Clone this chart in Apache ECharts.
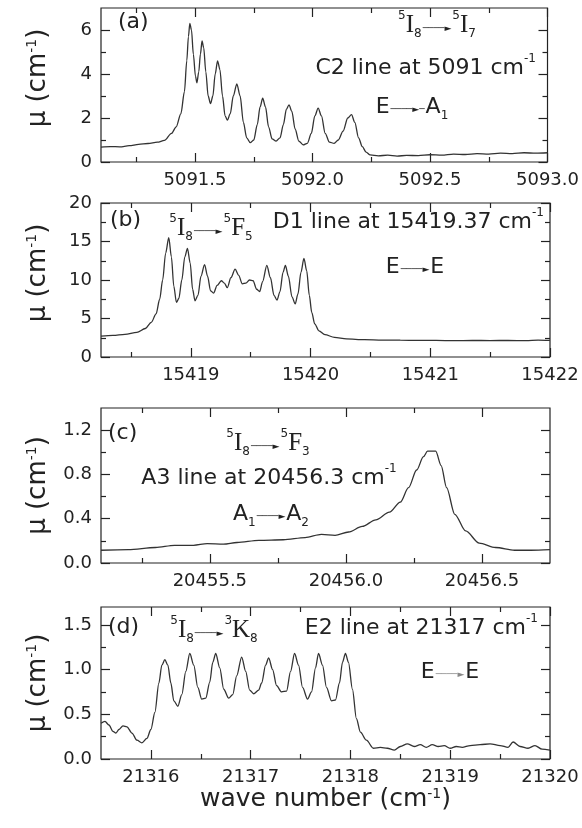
<!DOCTYPE html>
<html><head><meta charset="utf-8">
<script src="https://cdn.jsdelivr.net/npm/echarts@6/dist/echarts.min.js"></script>
<style>html,body{margin:0;padding:0;background:#fff}#c{width:582px;height:828px}</style>
</head><body><div id="c"></div>
<script>
// ---------- data ----------
const aXRange = [5091.1, 5093.0], aYRange = [0, 7];
const aXMajor = [5091.5, 5092.0, 5092.5, 5093.0], aXMinor = [5091.25, 5091.75, 5092.25, 5092.75];
const aYMajor = [0, 2, 4, 6], aYMinor = [1, 3, 5];
const aX = [5091.10,5091.14,5091.18,5091.22,5091.26,5091.30,5091.34,5091.37,5091.40,5091.42,5091.44,5091.455,5091.465,5091.472,5091.478,5091.485,5091.493,5091.502,5091.508,5091.516,5091.523,5091.530,5091.537,5091.546,5091.556,5091.566,5091.576,5091.586,5091.596,5091.606,5091.617,5091.628,5091.638,5091.650,5091.663,5091.678,5091.692,5091.706,5091.720,5091.735,5091.750,5091.765,5091.777,5091.788,5091.800,5091.813,5091.828,5091.845,5091.862,5091.876,5091.889,5091.900,5091.912,5091.926,5091.942,5091.960,5091.978,5091.995,5092.010,5092.024,5092.038,5092.054,5092.072,5092.092,5092.110,5092.130,5092.150,5092.166,5092.180,5092.196,5092.212,5092.228,5092.245,5092.28,5092.32,5092.36,5092.40,5092.45,5092.50,5092.55,5092.60,5092.65,5092.70,5092.75,5092.80,5092.85,5092.90,5092.95,5093.00];
const aY = [0.68,0.70,0.69,0.74,0.80,0.84,0.90,0.98,1.3,1.6,2.2,3.2,4.6,5.7,6.3,6.0,4.9,3.9,3.6,4.1,4.9,5.5,5.2,4.1,3.0,2.65,3.0,4.0,4.6,4.2,3.0,2.1,1.9,2.2,3.0,3.55,3.0,1.8,1.1,0.88,1.0,1.7,2.5,2.9,2.5,1.6,1.05,0.95,1.1,1.7,2.4,2.6,2.3,1.5,0.95,0.78,0.85,1.3,2.1,2.45,2.1,1.3,0.9,0.85,1.0,1.4,2.0,2.15,1.8,1.1,0.7,0.45,0.32,0.28,0.31,0.27,0.30,0.29,0.33,0.31,0.36,0.34,0.38,0.36,0.40,0.38,0.42,0.40,0.42];

const bXRange = [15418.25, 15422], bYRange = [0, 20];
const bXMajor = [15419, 15420, 15421, 15422], bXMinor = [15418.5, 15419.5, 15420.5, 15421.5];
const bYMajor = [0, 5, 10, 15, 20], bYMinor = [2.5, 7.5, 12.5, 17.5];
const bX = [15418.25,15418.35,15418.45,15418.55,15418.62,15418.67,15418.71,15418.74,15418.765,15418.79,15418.816,15418.838,15418.858,15418.88,15418.90,15418.925,15418.95,15418.972,15418.995,15419.015,15419.035,15419.06,15419.085,15419.115,15419.14,15419.165,15419.19,15419.22,15419.255,15419.28,15419.305,15419.335,15419.37,15419.40,15419.43,15419.46,15419.49,15419.52,15419.55,15419.575,15419.60,15419.635,15419.665,15419.695,15419.72,15419.745,15419.77,15419.79,15419.815,15419.845,15419.872,15419.895,15419.92,15419.945,15419.968,15419.99,15420.01,15420.035,15420.07,15420.12,15420.2,15420.3,15420.45,15420.6,15420.75,15420.9,15421.05,15421.2,15421.35,15421.5,15421.65,15421.8,15421.9,15422.0];
const bY = [2.7,2.8,2.95,3.2,3.7,4.5,5.6,7.5,10.0,13.5,15.5,13.0,9.2,7.1,7.6,10.0,13.0,14.1,12.2,8.8,7.3,8.0,10.5,12.0,10.5,8.6,8.3,9.3,9.9,9.6,9.0,10.3,11.4,10.6,9.5,9.6,10.0,9.9,8.8,8.5,9.8,11.9,10.3,8.0,7.4,8.5,11.0,11.9,10.5,7.8,6.9,8.2,11.0,12.8,11.2,8.0,5.8,4.3,3.4,2.9,2.55,2.35,2.25,2.2,2.18,2.15,2.15,2.12,2.15,2.13,2.15,2.12,2.18,2.15];

const cXRange = [20455.1, 20456.75], cYRange = [0, 1.4];
const cXMajor = [20455.5, 20456.0, 20456.5], cXMinor = [20455.25, 20455.75, 20456.25];
const cYMajor = [0, 0.4, 0.8, 1.2], cYMinor = [0.2, 0.6, 1.0];
const cX = [20455.10,20455.20,20455.30,20455.37,20455.44,20455.49,20455.55,20455.60,20455.68,20455.77,20455.85,20455.91,20455.96,20456.01,20456.06,20456.11,20456.16,20456.20,20456.23,20456.26,20456.285,20456.30,20456.33,20456.35,20456.37,20456.40,20456.44,20456.49,20456.55,20456.62,20456.68,20456.75];
const cY = [0.115,0.12,0.14,0.16,0.16,0.175,0.17,0.185,0.205,0.21,0.23,0.258,0.25,0.28,0.33,0.39,0.46,0.55,0.68,0.84,0.96,1.01,1.01,0.88,0.68,0.44,0.29,0.18,0.14,0.115,0.115,0.12];

const dXRange = [21315.5, 21320], dYRange = [0, 1.7];
const dXMajor = [21316, 21317, 21318, 21319, 21320], dXMinor = [21316.5, 21317.5, 21318.5, 21319.5];
const dYMajor = [0, 0.5, 1.0, 1.5], dYMinor = [0.25, 0.75, 1.25];
const dX = [21315.50,21315.54,21315.58,21315.62,21315.65,21315.68,21315.72,21315.76,21315.81,21315.86,21315.91,21315.96,21316.00,21316.04,21316.08,21316.11,21316.14,21316.17,21316.20,21316.23,21316.27,21316.31,21316.35,21316.39,21316.43,21316.47,21316.51,21316.55,21316.59,21316.62,21316.65,21316.69,21316.73,21316.78,21316.82,21316.86,21316.91,21316.95,21316.99,21317.03,21317.08,21317.11,21317.15,21317.18,21317.22,21317.26,21317.31,21317.36,21317.40,21317.44,21317.48,21317.52,21317.57,21317.61,21317.65,21317.68,21317.72,21317.76,21317.81,21317.85,21317.89,21317.92,21317.95,21317.98,21318.02,21318.06,21318.10,21318.16,21318.23,21318.30,21318.37,21318.44,21318.50,21318.57,21318.64,21318.70,21318.76,21318.82,21318.88,21318.94,21319.00,21319.06,21319.12,21319.20,21319.30,21319.40,21319.50,21319.58,21319.63,21319.70,21319.78,21319.85,21319.92,21320.00];
const dY = [0.40,0.42,0.38,0.31,0.29,0.33,0.37,0.36,0.29,0.21,0.18,0.23,0.33,0.52,0.85,1.05,1.11,1.05,0.85,0.65,0.59,0.72,0.98,1.18,1.05,0.8,0.67,0.68,0.86,1.08,1.18,1.02,0.78,0.68,0.72,0.93,1.14,0.98,0.77,0.73,0.77,0.85,1.05,1.13,1.0,0.82,0.75,0.76,0.98,1.18,1.05,0.8,0.67,0.75,1.02,1.18,1.05,0.8,0.65,0.66,0.85,1.08,1.18,1.08,0.78,0.45,0.30,0.21,0.12,0.13,0.12,0.10,0.14,0.17,0.14,0.16,0.13,0.16,0.14,0.15,0.12,0.14,0.13,0.15,0.16,0.17,0.15,0.13,0.19,0.14,0.12,0.15,0.11,0.10];

// ---------- chart ----------
const F = 'DejaVu Sans';
const INK = '#222';
const fmt0 = v => String(Math.round(v));
const fmt1 = v => v.toFixed(1);
const panels = [
  {x:aX,y:aY,xr:aXRange,yr:aYRange,xM:aXMajor,xm:aXMinor,yM:aYMajor,ym:aYMinor,xf:fmt1,yf:fmt0,top:8,h:154,shift:14},
  {x:bX,y:bY,xr:bXRange,yr:bYRange,xM:bXMajor,xm:bXMinor,yM:bYMajor,ym:bYMinor,xf:fmt0,yf:fmt0,top:203,h:154,shift:14},
  {x:cX,y:cY,xr:cXRange,yr:cYRange,xM:cXMajor,xm:cXMinor,yM:cYMajor,ym:cYMinor,xf:fmt1,yf:fmt1,top:408,h:155,shift:0},
  {x:dX,y:dY,xr:dXRange,yr:dYRange,xM:dXMajor,xm:dXMinor,yM:dYMajor,ym:dYMinor,xf:fmt0,yf:fmt1,top:607,h:152,shift:0}
];
const grid = [], xAxis = [], yAxis = [], series = [];
panels.forEach((p, i) => {
  grid.push({left:101, width:449, top:p.top, height:p.h, show:true, borderColor:INK, borderWidth:1.2});
  const ax = (dim, pos, vals, len, labels) => {
    const range = dim === 'x' ? p.xr : p.yr;
    const o = {
      gridIndex:i, type:'value', position:pos, min:range[0], max:range[1],
      axisLine:{show:false, onZero:false}, splitLine:{show:false},
      axisTick:{show:true, inside:true, length:len, customValues:vals, lineStyle:{color:INK, width:1.2}},
      axisLabel:{show:false}
    };
    if (labels) {
      o.axisLabel = {show:true, customValues:vals, formatter: dim === 'x' ? p.xf : p.yf,
        fontFamily:F, fontSize:18, color:INK, margin:9};
    }
    return o;
  };
  const xb = ax('x','bottom',p.xM,9,true);
  if (i === 3) {
    xb.name = 'wave number (cm{s|-1})';
    xb.nameLocation = 'middle';
    xb.nameGap = 26;
    xb.nameTextStyle = {fontFamily:F, fontSize:25, color:INK, rich:{s:{fontFamily:F, fontSize:14, color:INK, verticalAlign:'top'}}};
  }
  xAxis.push(xb, ax('x','bottom',p.xm,5,false), ax('x','top',p.xM,9,false), ax('x','top',p.xm,5,false));
  const yl = ax('y','left',p.yM,9,true);
  yl.name = 'μ (cm{s|-1})';
  yl.nameLocation = 'middle';
  yl.nameRotate = 90;
  yl.nameGap = 50;
  yl.nameTextStyle = {fontFamily:F, fontSize:26, color:INK, padding:[0,0,0,p.shift],
    rich:{s:{fontFamily:F, fontSize:14, color:INK, verticalAlign:'top'}}};
  yAxis.push(yl, ax('y','left',p.ym,5,false), ax('y','right',p.yM,9,false), ax('y','right',p.ym,5,false));
  series.push({type:'line', xAxisIndex:4*i, yAxisIndex:4*i, data:p.x.map((v,k)=>[v,p.y[k]]),
    symbol:'none', smooth:0.3, smoothMonotone:'x', silent:true,
    lineStyle:{color:'#333', width:1.3}});
});

const RICH = {
  sup:{fontFamily:F, fontSize:12, fill:INK, verticalAlign:'top', lineHeight:14},
  sub:{fontFamily:F, fontSize:12, fill:INK, verticalAlign:'bottom', lineHeight:14},
  L:{fontFamily:'Liberation Serif', fontSize:25, fill:INK, lineHeight:30},
  t:{fontFamily:F, fontSize:22, fill:INK, lineHeight:30},
  ar:{fontFamily:F, fontSize:9, fill:INK, verticalAlign:'bottom', lineHeight:9, padding:[0,1,7,1]},
  am:{fontFamily:F, fontSize:9, fill:INK, lineHeight:9, padding:[6,1,0,1]},
  ag:{fontFamily:F, fontSize:9, fill:'#888', lineHeight:9, padding:[6,1,0,1]}
};
const T = (x, y, text, align) => ({type:'text', x, y, silent:true,
  style:{text, align, verticalAlign:'middle', fill:INK, fontFamily:F, fontSize:22, rich:RICH}});
const ARR = '────►';
const graphic = [
  T(118, 22, '{t|(a)}', 'left'),
  T(437, 25, '{sup|5}{L|I}{sub|8}{ar|'+ARR+'}{sup|5}{L|I}{sub|7}', 'center'),
  T(536, 68, '{t|C2 line at 5091 cm}{sup|-1}', 'right'),
  T(412, 107, '{t|E}{am|'+ARR+'─}{t|A}{sub|1}', 'center'),

  T(110, 220, '{t|(b)}', 'left'),
  T(211, 228, '{sup|5}{L|I}{sub|8}{ar|'+ARR+'}{sup|5}{L|F}{sub|5}', 'center'),
  T(544, 222, '{t|D1 line at 15419.37 cm}{sup|-1}', 'right'),
  T(415, 267, '{t|E}{am|'+ARR+'}{t|E}', 'center'),

  T(108, 433, '{t|(c)}', 'left'),
  T(268, 443, '{sup|5}{L|I}{sub|8}{ar|'+ARR+'}{sup|5}{L|F}{sub|3}', 'center'),
  T(269, 478, '{t|A3 line at 20456.3 cm}{sup|-1}', 'center'),
  T(271, 514, '{t|A}{sub|1}{am|'+ARR+'}{t|A}{sub|2}', 'center'),

  T(108, 627, '{t|(d)}', 'left'),
  T(214, 630, '{sup|5}{L|I}{sub|8}{ar|'+ARR+'}{sup|3}{L|K}{sub|8}', 'center'),
  T(538, 628, '{t|E2 line at 21317 cm}{sup|-1}', 'right'),
  T(450, 672, '{t|E}{ag|'+ARR+'}{t|E}', 'center')
];

const chart = echarts.init(document.getElementById('c'), null, {renderer:'canvas'});
chart.setOption({animation:false, backgroundColor:'#fff', grid, xAxis, yAxis, series, graphic});
</script></body></html>
